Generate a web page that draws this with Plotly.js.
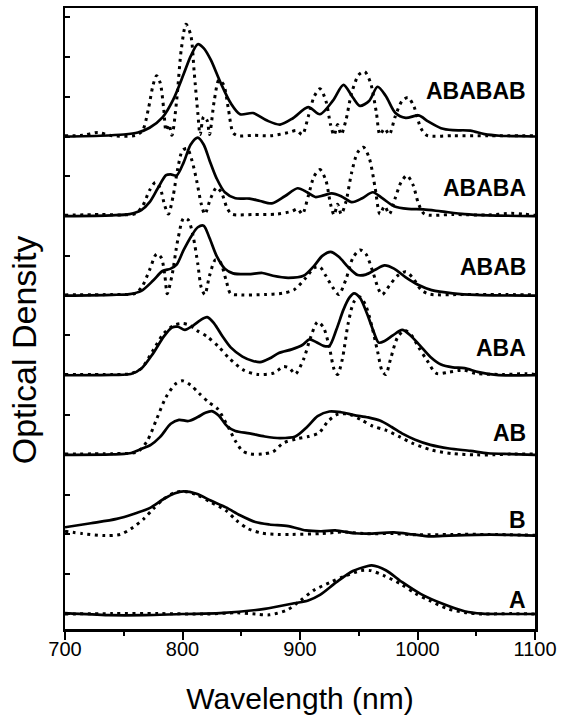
<!DOCTYPE html>
<html><head><meta charset="utf-8">
<script src="https://cdn.plot.ly/plotly-3.0.1.min.js"></script>
<style>html,body{margin:0;padding:0;background:#fff;}#chart{width:571px;height:717px;}</style>
</head><body><div id="chart"></div>
<script>
// stacked spectra: names, vertical offsets (OD units) and label heights above each baseline
const seriesNames = ["A", "B", "AB", "ABA", "ABAB", "ABABA", "ABABAB"];
const baselineOffsets = [0, 2, 4, 6, 8, 10, 12];
const labelHeights = [0.36, 0.37, 0.56, 0.69, 0.73, 0.71, 1.15];
const xTickVals = [700, 800, 900, 1000, 1100];
const xRange = [700, 1100];

// ---- A ----
const A_solid_nm = [700,737,768,800,832,870,895,907,917,931,945,957,961,973,987,1003,1022,1040,1055,1075,1100];
const A_solid_od = [0.02,-0.03,-0.03,0,0.02,0.13,0.27,0.34,0.48,0.8,1.08,1.2,1.22,1.1,0.8,0.5,0.25,0.07,0.01,0,0];
const A_dot_nm = [700,740,780,820,846,862,874,889,900,912,926,938,952,960,971,986,998,1010,1026,1042,1055,1080,1100];
const A_dot_od = [0,0.01,0.01,0,0.03,0,-0.02,0.1,0.33,0.6,0.8,0.95,1.09,1.09,0.97,0.75,0.52,0.34,0.13,0.03,0,0.01,0];

// ---- B ----
const B_solid_nm = [700,722,744,759,772,784,793,801,812,824,837,849,862,874,890,905,918,930,946,958,980,996,1011,1027,1050,1075,1100];
const B_solid_od = [0.18,0.28,0.39,0.52,0.66,0.89,1.03,1.08,1.02,0.85,0.68,0.48,0.31,0.25,0.21,0.1,0.08,0.1,0.03,0.02,0.05,0,-0.05,-0.03,-0.01,-0.01,-0.03];
const B_dot_nm = [700,715,734,747,756,767,775,784,793,801,812,824,837,846,856,868,881,893,918,937,955,980,1000,1030,1060,1100];
const B_dot_od = [0.08,0.02,-0.03,0,0.14,0.39,0.64,0.89,1.05,1.08,1.0,0.81,0.6,0.35,0.14,0.03,0,0,0.02,0.06,0.02,0.02,-0.01,0,0,-0.02];

// ---- AB ----
const AB_solid_nm = [700,740,755,765,773,781,790,797,805,813,819,825,831,838,845,857,870,883,896,906,915,925,935,946,958,968,978,988,998,1011,1027,1045,1060,1080,1100];
const AB_solid_od = [0,0.01,0.04,0.15,0.25,0.45,0.78,0.88,0.85,0.95,1.05,1.1,0.98,0.72,0.6,0.54,0.46,0.42,0.46,0.7,0.97,1.09,1.07,1.0,0.94,0.86,0.7,0.52,0.38,0.25,0.16,0.1,0.04,0.02,0];
const AB_dot_nm = [700,740,755,762,770,778,786,794,800,807,814,822,830,838,845,851,858,868,877,886,897,907,916,924,932,942,952,962,973,985,995,1012,1030,1050,1065,1080,1100];
const AB_dot_od = [0.02,0.03,0.04,0.08,0.35,0.9,1.45,1.78,1.86,1.75,1.55,1.33,1.15,0.75,0.35,0.1,0.02,0.02,0.08,0.3,0.4,0.46,0.55,0.85,1.02,1.02,0.88,0.72,0.62,0.45,0.3,0.12,0.03,0,0,0.02,0.02];

// ---- ABA ----
const ABA_solid_nm = [700,740,756,765,775,784,791,796,802,809,815,821,827,834,841,851,860,866,874,882,893,902,908,914,920,925,931,937,942,946,951,957,962,967,972,979,987,994,1002,1011,1020,1030,1040,1052,1067,1100];
const ABA_solid_od = [0,0.01,0.03,0.17,0.55,0.97,1.2,1.22,1.14,1.25,1.38,1.46,1.3,0.98,0.7,0.47,0.36,0.33,0.42,0.56,0.65,0.76,0.9,0.83,0.74,0.74,1.15,1.65,1.95,2.06,1.95,1.55,1.15,0.82,0.86,1.0,1.14,1.0,0.75,0.46,0.27,0.2,0.18,0.08,0.01,0];
const ABA_dot_nm = [700,740,756,765,775,784,793,800,806,812,821,831,840,852,864,877,881,886,891,896,903,909,915,920,925,929,932,936,941,946,951,956,961,966,970,973,977,983,989,995,1001,1008,1016,1027,1039,1049,1073,1092,1100];
const ABA_dot_od = [0.02,0.02,0.04,0.17,0.63,1.05,1.26,1.3,1.26,1.13,0.97,0.71,0.42,0.13,0.02,0.05,0.12,0.22,0.18,0.03,0.4,0.95,1.34,1.2,0.7,0.15,0.02,0.4,1.3,1.85,1.97,1.75,1.25,0.6,0.1,0.02,0.4,0.95,1.13,1.0,0.7,0.38,0.05,0.08,0.13,0.05,0.02,0.04,0.02];

// ---- ABAB ----
const ABAB_solid_nm = [700,740,755,765,775,783,790,795,801,808,813,818,823,829,836,843,856,868,877,890,903,912,919,926,933,941,949,956,964,972,980,990,1000,1012,1030,1050,1100];
const ABAB_solid_od = [0,0.02,0.04,0.12,0.38,0.62,0.68,0.78,1.15,1.52,1.72,1.76,1.45,1.0,0.68,0.56,0.54,0.57,0.5,0.45,0.5,0.75,1.0,1.1,0.98,0.72,0.52,0.53,0.65,0.76,0.68,0.46,0.28,0.14,0.06,0.02,0];
const ABAB_dot_nm = [700,740,760,766,772,778,782,785,787,791,796,801,805,809,813,816,819,823,828,832,837,841,850,870,885,895,905,912,917,922,928,933,939,945,951,956,962,967,970,976,983,990,996,1003,1010,1040,1070,1100];
const ABAB_dot_od = [0.02,0.03,0.06,0.25,0.65,1.05,0.95,0.5,0.05,0.5,1.4,1.95,1.9,1.5,0.8,0.2,0.03,0.5,0.9,0.85,0.4,0.05,0.02,0.03,0.06,0.15,0.45,0.7,0.72,0.5,0.2,0.03,0.4,0.95,1.15,1.05,0.6,0.15,0.03,0.25,0.5,0.6,0.45,0.15,0.04,0.03,0.03,0.02];

// ---- ABABA ----
const ABABA_solid_nm = [700,740,755,765,772,779,786,790,795,801,807,813,818,823,829,836,845,857,866,876,887,898,906,913,920,927,935,944,953,962,970,980,992,1005,1020,1040,1060,1100];
const ABABA_solid_od = [0,0.02,0.05,0.15,0.35,0.7,1.03,1.05,1.02,1.35,1.8,1.97,1.8,1.4,0.95,0.6,0.45,0.44,0.38,0.32,0.5,0.7,0.6,0.48,0.52,0.57,0.5,0.35,0.45,0.6,0.45,0.25,0.18,0.17,0.12,0.05,0.02,0];
const ABABA_dot_nm = [700,730,750,760,766,772,777,781,785,788,792,796,800,804,808,812,816,819,824,829,833,838,842,860,880,893,898,902,907,912,917,922,926,929,932,935,939,944,949,954,959,964,968,972,976,981,986,991,996,1001,1006,1030,1060,1080,1090,1100];
const ABABA_dot_od = [0.02,0.04,0.03,0.06,0.25,0.65,0.85,0.7,0.25,0.05,0.5,1.2,1.65,1.7,1.4,0.9,0.3,0.05,0.45,0.72,0.6,0.2,0.05,0.04,0.05,0.12,0.18,0.05,0.5,1.0,1.17,0.9,0.3,0.03,0.3,0.05,0.35,1.1,1.6,1.73,1.45,0.7,0.05,0.25,0.05,0.45,0.85,1.02,0.8,0.3,0.05,0.04,0.03,0.07,0.05,0.02];

// ---- ABABAB ----
const ABABAB_solid_nm = [700,730,750,762,772,783,792,801,807,813,818,824,832,841,849,860,872,883,894,907,917,928,937,945,951,959,966,973,981,990,1001,1009,1020,1030,1045,1057,1070,1085,1100];
const ABABAB_solid_od = [0,0.02,0.05,0.1,0.22,0.48,0.92,1.57,2.02,2.32,2.22,1.93,1.38,0.84,0.56,0.59,0.4,0.3,0.46,0.74,0.56,0.9,1.3,0.98,0.77,0.9,1.25,1.02,0.6,0.47,0.53,0.38,0.21,0.16,0.15,0.06,0.02,0.01,0];
const ABABAB_dot_nm = [700,715,728,740,760,766,771,775,778,781,784,786,788.5,791,795,799,803,807,810,813,815,818,821,823,827,831,835,839,843,847,860,875,890,897,902,907,912,917,922,926,929,932,935,939,944,950,955,960,965,968,972,976,981,987,992,997,1003,1008,1030,1060,1100];
const ABABAB_dot_od = [0.02,0.03,0.1,0.02,0.03,0.15,0.7,1.3,1.53,1.35,0.7,0.15,0.3,0.03,0.9,2.2,2.82,2.55,1.6,0.6,0.05,0.5,0.4,0.05,0.9,1.42,1.3,0.7,0.1,0.02,0.03,0.02,0.1,0.15,0.05,0.5,1.0,1.2,0.9,0.3,0.03,0.3,0.05,0.4,1.1,1.55,1.63,1.35,0.6,0.05,0.2,0.05,0.5,0.9,0.98,0.75,0.2,0.03,0.02,0.02,0.02];

const solidData = [
  [A_solid_nm, A_solid_od], [B_solid_nm, B_solid_od], [AB_solid_nm, AB_solid_od],
  [ABA_solid_nm, ABA_solid_od], [ABAB_solid_nm, ABAB_solid_od],
  [ABABA_solid_nm, ABABA_solid_od], [ABABAB_solid_nm, ABABAB_solid_od]
];
const dotData = [
  [A_dot_nm, A_dot_od], [B_dot_nm, B_dot_od], [AB_dot_nm, AB_dot_od],
  [ABA_dot_nm, ABA_dot_od], [ABAB_dot_nm, ABAB_dot_od],
  [ABABA_dot_nm, ABABA_dot_od], [ABABAB_dot_nm, ABABAB_dot_od]
];

const FONT = '"Liberation Sans", Arial, Helvetica, sans-serif';
const traces = [];
seriesNames.forEach((name, i) => {
  const off = baselineOffsets[i];
  traces.push({
    type: 'scatter', mode: 'lines', name: name + ' (dotted)',
    x: dotData[i][0], y: dotData[i][1].map(v => v + off),
    line: {color: '#000', width: 3, dash: '3px,4.5px', shape: 'spline', smoothing: 0.8},
    hoverinfo: 'skip'
  });
  traces.push({
    type: 'scatter', mode: 'lines', name: name,
    // the A solid curve is placed on the overlaid tick-only axis (same range) so that axis is drawn
    xaxis: i === 0 ? 'x2' : 'x',
    x: solidData[i][0], y: solidData[i][1].map(v => v + off),
    line: {color: '#000', width: 2.7, shape: 'spline', smoothing: 0.8},
    hoverinfo: 'skip'
  });
});

const annotations = seriesNames.map((name, i) => ({
  x: 1094, y: baselineOffsets[i] + labelHeights[i], xref: 'x', yref: 'y',
  text: name, showarrow: false, xanchor: 'right', yanchor: 'middle',
  font: {family: FONT, size: 23, color: '#000', weight: 'bold'}
}));
// y-axis title drawn as a rotated annotation so it can sit where the original has it
annotations.push({
  x: -0.087, y: 0.449, xref: 'paper', yref: 'paper',
  text: 'Optical Density', textangle: -90, showarrow: false,
  xanchor: 'center', yanchor: 'middle',
  font: {family: FONT, size: 34, color: '#000'}
});

const layout = {
  width: 571, height: 717,
  margin: {l: 65, r: 36, t: 8, b: 88},
  paper_bgcolor: '#fff', plot_bgcolor: '#fff',
  showlegend: false,
  font: {family: FONT, color: '#000'},
  // main x axis: frame line, tick labels and title (labels sit close to the frame)
  xaxis: {
    range: xRange, tickmode: 'array', tickvals: xTickVals,
    ticks: '',
    showline: true, linewidth: 2.5, linecolor: '#000', mirror: true,
    showgrid: false, zeroline: false, automargin: false,
    tickfont: {family: FONT, size: 20, color: '#000'},
    title: {text: 'Wavelength (nm)', font: {family: FONT, size: 30, color: '#000'}, standoff: 30}
  },
  // overlaid x axis with the same range: only the outside major/minor tick marks
  xaxis2: {
    overlaying: 'x', anchor: 'y', side: 'bottom',
    range: xRange, tickmode: 'array', tickvals: xTickVals,
    ticks: 'outside', ticklen: 10, tickwidth: 2, tickcolor: '#000',
    minor: {dtick: 50, tick0: 700, ticks: 'outside', ticklen: 6, tickwidth: 2, tickcolor: '#000', showgrid: false},
    showticklabels: false, showline: false,
    showgrid: false, zeroline: false, automargin: false
  },
  yaxis: {
    range: [-0.377, 15.23], tick0: 0, dtick: 1,
    ticks: 'inside', ticklen: 5, tickwidth: 2, tickcolor: '#000',
    showticklabels: false,
    showline: true, linewidth: 2.5, linecolor: '#000', mirror: true,
    showgrid: false, zeroline: false, automargin: false
  },
  annotations: annotations
};

Plotly.newPlot('chart', traces, layout, {staticPlot: true, displayModeBar: false});
</script>
</body></html>
